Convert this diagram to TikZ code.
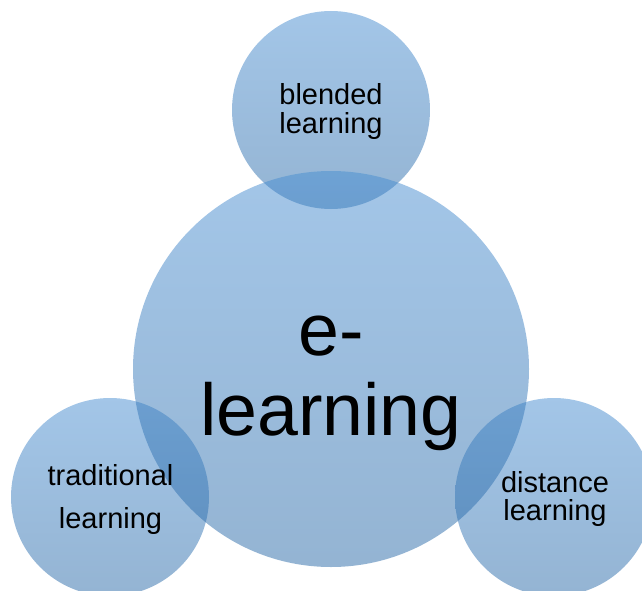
\documentclass[tikz,border=0pt]{standalone}
\usepackage{fontspec}
\setmainfont{Liberation Sans}
\definecolor{ctop}{RGB}{71,141,209}
\definecolor{cbot}{RGB}{41,105,167}
\tikzset{
  bubble/.style={circle, inner sep=0pt, top color=ctop, bottom color=cbot, fill opacity=0.5, draw=none},
  bigtxt/.style={anchor=base, inner sep=0pt, font=\fontsize{73.5}{80}\selectfont, text=black},
  smalltxt/.style={anchor=base, inner sep=0pt, font=\fontsize{29}{32}\selectfont, text=black}
}
\begin{document}
\begin{tikzpicture}[x=1pt,y=-1pt]
\useasboundingbox (0,0) rectangle (642,591);
\clip (0,0) rectangle (642,591);
\node[bubble, minimum size=198pt] (top) at (331,110) {};
\node[bubble, minimum size=198pt] (left) at (110,497) {};
\node[bubble, minimum size=198pt] (right) at (554,497) {};
\node[bubble, minimum size=396pt] (big) at (331,369) {};
\node[bigtxt] (e1) at (331,355) {e-};
\node[bigtxt] (e2) at (331,435) {learning};
\node[smalltxt] (b1) at (331,105) {blended};
\node[smalltxt] (b2) at (331,133) {learning};
\node[smalltxt] (t1) at (110.5,485) {traditional};
\node[smalltxt] (t2) at (110.5,528) {learning};
\node[smalltxt] (d1) at (555,492) {distance};
\node[smalltxt] (d2) at (555,520) {learning};
\end{tikzpicture}
\end{document}
